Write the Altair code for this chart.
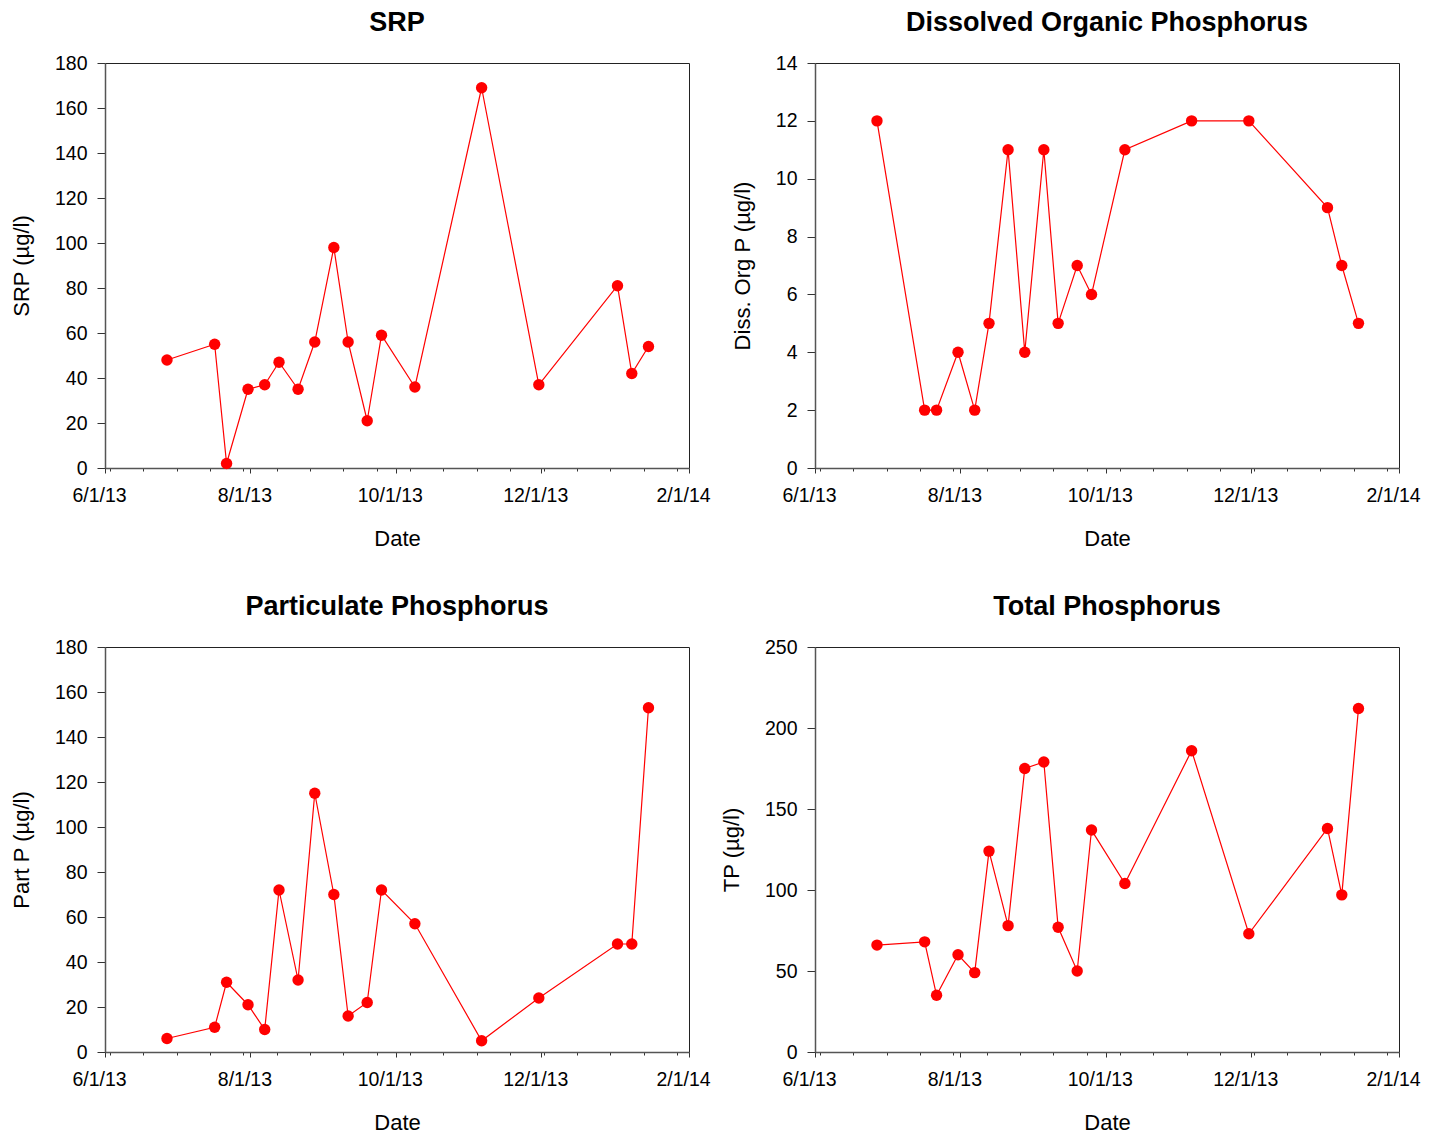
import altair as alt
import pandas as pd

# ---- data ----
dates = ["2013-06-27", "2013-07-17", "2013-07-22", "2013-07-31", "2013-08-07",
         "2013-08-13", "2013-08-21", "2013-08-28", "2013-09-05", "2013-09-11",
         "2013-09-19", "2013-09-25", "2013-10-09", "2013-11-06", "2013-11-30",
         "2014-01-02", "2014-01-08", "2014-01-15"]
srp = [48, 55, 2, 35, 37, 47, 35, 56, 98, 56, 21, 59, 36, 169, 37, 81, 42, 54]
dop = [12, 2, 2, 4, 2, 5, 11, 4, 11, 5, 7, 6, 11, 12, 12, 9, 7, 5]
pp = [6, 11, 31, 21, 10, 72, 32, 115, 70, 16, 22, 72, 57, 5, 24, 48, 48, 153]
tp = [66, 68, 35, 60, 49, 124, 78, 175, 179, 77, 50, 137, 104, 186, 73, 138, 97, 212]

major_ticks = ["2013-06-01", "2013-08-01", "2013-10-01", "2013-12-01", "2014-02-01"]
minor_ticks = ["2013-06-03", "2013-06-17", "2013-07-01", "2013-07-15", "2013-07-29",
               "2013-08-12", "2013-08-26", "2013-09-09", "2013-09-23", "2013-10-07",
               "2013-10-21", "2013-11-04", "2013-11-18", "2013-12-02", "2013-12-16",
               "2013-12-30", "2014-01-13", "2014-01-27"]

df = pd.DataFrame({
    "date": [d + "T00:00:00" for d in dates],
    "srp": srp, "dop": dop, "pp": pp, "tp": tp,
})


def dt(s):
    y, m, d = (int(v) for v in s.split("-"))
    return alt.DateTime(year=y, month=m, date=d)


FONT = "Liberation Sans"
RED = "#ff0000"

is_major = "(date(datum.value) == 1 && month(datum.value) % 2 == 1)"
all_ticks = sorted(major_ticks + minor_ticks)

x_axis = alt.Axis(
    values=[dt(s) for s in all_ticks],
    labelExpr=f"{is_major} ? timeFormat(datum.value, '%-m/%-d/%y') : ''",
    tickSize={"condition": {"test": is_major, "value": 5}, "value": 3},
    title="Date",
    labelFontSize=19.5, titleFontSize=22, titleFontWeight="normal",
    labelPadding=13, titlePadding=24, labelOffset=-6,
    labelFlush=False, labelOverlap=False, grid=False,
    domainColor="#555555", domainWidth=1.5, tickColor="#333333",
    labelColor="#000000", titleColor="#000000",
)


def panel(col, title, ytitle, ymax, ystep):
    y_axis = alt.Axis(
        values=list(range(0, ymax + 1, ystep)), title=ytitle,
        labelFontSize=19.5, titleFontSize=22, titleFontWeight="normal",
        tickSize=8, labelPadding=10, titlePadding=21, grid=False,
        domainColor="#555555", domainWidth=1.5, tickColor="#333333",
        labelColor="#000000", titleColor="#000000",
    )
    base = alt.Chart(df).encode(
        x=alt.X("date:T",
                scale=alt.Scale(domain=[dt("2013-06-01"), dt("2014-02-01")], nice=False),
                axis=x_axis),
        y=alt.Y(f"{col}:Q", scale=alt.Scale(domain=[0, ymax], nice=False), axis=y_axis),
    )
    line = base.mark_line(color=RED, strokeWidth=1.2)
    pts = base.mark_circle(color=RED, size=130, opacity=1)
    return alt.layer(line, pts).properties(
        width=584, height=405,
        title=alt.Title(title, fontSize=27, fontWeight="bold", font=FONT,
                        anchor="middle", frame="group", baseline="alphabetic",
                        offset=-5, color="#000000"),
    )


chart = alt.concat(
    panel("srp", "SRP", "SRP (µg/l)", 180, 20),
    panel("dop", "Dissolved Organic Phosphorus", "Diss. Org P (µg/l)", 14, 2),
    panel("pp", "Particulate Phosphorus", "Part P (µg/l)", 180, 20),
    panel("tp", "Total Phosphorus", "TP (µg/l)", 250, 50),
    columns=2,
    spacing=alt.RowColnumber(row=179, column=126),
    bounds="flush",
).properties(
    padding={"left": 1, "top": 0, "right": 5, "bottom": 5},
).configure(
    font=FONT,
).configure_view(
    stroke="#222222", strokeWidth=1,
).configure_axis(
    labelFont=FONT, titleFont=FONT,
)

chart.save("out.html", embed_options={"renderer": "svg", "actions": False})
